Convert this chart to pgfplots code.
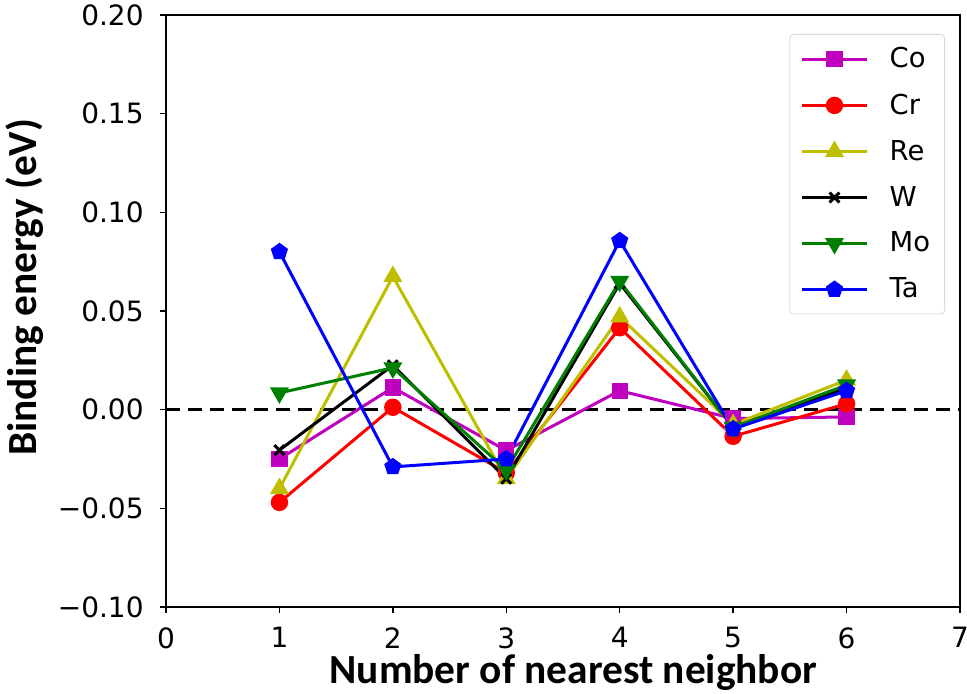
\documentclass[border=0pt]{standalone}
\usepackage{pgfplots}
\pgfplotsset{compat=1.18}
\usepackage{fontspec}
\setmainfont{DejaVu Sans}
\newfontfamily\labelfont{Carlito}
\usetikzlibrary{plotmarks,calc}
\definecolor{mplm}{rgb}{0.75,0,0.75}
\definecolor{mply}{rgb}{0.75,0.75,0}
\definecolor{mplg}{rgb}{0,0.5,0}
\begin{document}
\begin{tikzpicture}
\begin{axis}[
  name=ax,
  scale only axis,
  width=397pt, height=296pt,
  xmin=0, xmax=7, ymin=-0.10, ymax=0.20,
  xtick={0,1,2,3,4,5,6,7},
  ytick={-0.10,-0.05,0,0.05,0.10,0.15,0.20},
  yticklabels={−0.10,−0.05,0.00,0.05,0.10,0.15,0.20},
  xticklabels={0,1,2,3,4,5,6,7},
  tick align=outside, xtick pos=bottom, ytick pos=left,
  major tick length=3pt,
  axis line style={line width=0.7pt},
  tick style={line width=0.7pt, black},
  ticklabel style={font=\fontsize{14}{16}\selectfont},
  xticklabel style={inner sep=0pt, yshift=-7pt},
  yticklabel style={inner sep=0pt, xshift=-8pt},
  xlabel={Number of nearest neighbor},
  ylabel={Binding energy (eV)},
  label style={font=\labelfont\bfseries\fontsize{20.7}{23}\selectfont},
  xlabel style={at={(axis description cs:0.513,-0.130)}, anchor=base},
  ylabel style={at={(axis description cs:-0.1625,0.54)}, anchor=base},
  legend style={at={(axis description cs:1,1)}, anchor=north east, xshift=-7.5pt, yshift=-9.5pt,
    draw=black!15, rounded corners=2pt,
    font=\fontsize{13.7}{16}\selectfont, row sep=7.5pt, inner xsep=5.25pt, inner ysep=4.5pt,
    /tikz/every odd column/.append style={column sep=8.5pt}},
  legend cell align=left,
  legend image code/.code={\draw[mark repeat=2,mark phase=2] plot coordinates {(0cm,0cm)(0.575cm,0cm)(1.15cm,0cm)};},
  every axis plot/.append style={line width=1.5pt},
  clip=false,
]
\addplot[black, dashed, dash pattern=on 7pt off 4pt, line width=1.3pt, forget plot] coordinates {(0,0) (7,0)};
\addplot[mplm, mark=square*, mark size=3.3pt] coordinates {(1,-0.025) (2,0.0112) (3,-0.0207) (4,0.0096) (5,-0.0045) (6,-0.0037)};
\addlegendentry{Co}
\addplot[red, mark=*, mark size=3.6pt] coordinates {(1,-0.047) (2,0.0012) (3,-0.032) (4,0.0415) (5,-0.0135) (6,0.003)};
\addlegendentry{Cr}
\addplot[mply, mark=triangle*, mark size=4pt] coordinates {(1,-0.040) (2,0.0675) (3,-0.035) (4,0.047) (5,-0.0075) (6,0.0150)};
\addlegendentry{Re}
\addplot[black, mark=x, mark size=3.5pt] coordinates {(1,-0.0205) (2,0.0225) (3,-0.035) (4,0.0640) (5,-0.0090) (6,0.0110)};
\addlegendentry{W}
\addplot[mplg, mark=triangle*, mark size=4pt, mark options={rotate=180}] coordinates {(1,0.0085) (2,0.0212) (3,-0.0305) (4,0.065) (5,-0.0090) (6,0.0125)};
\addlegendentry{Mo}
\addplot[blue, mark=pentagon*, mark size=3.6pt] coordinates {(1,0.0800) (2,-0.0290) (3,-0.0250) (4,0.0856) (5,-0.0098) (6,0.0096)};
\addlegendentry{Ta}
\end{axis}
\pgfresetboundingbox
\path[use as bounding box] ($(ax.south west)+(-83pt,-43.5pt)$) rectangle ($(ax.north east)+(3.5pt,7.5pt)$);
\end{tikzpicture}
\end{document}
